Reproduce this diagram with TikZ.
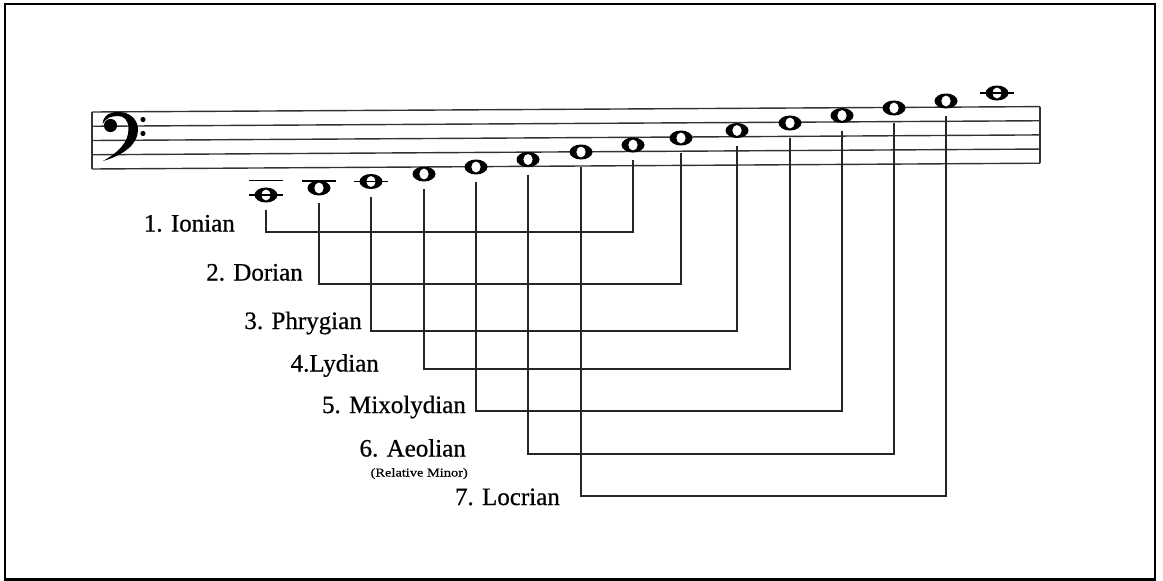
\documentclass[tikz,border=0pt]{standalone}
\usepackage{fontspec}
\setmainfont{Liberation Serif}
\usetikzlibrary{shapes.geometric,calc}
\begin{document}
\begin{tikzpicture}[x=1pt,y=-1pt,
  staffline/.style={line width=1.4pt, draw=black!80},
  conn/.style={line width=1.5pt, draw=black!85},
  ledger/.style={line width=1.7pt, draw=black},
  wnote/.style={ellipse, fill=black, minimum width=23pt, minimum height=15pt, inner sep=0pt,
    path picture={\fill[white, rotate around={-15:(path picture bounding box.center)}] (path picture bounding box.center) ellipse [x radius=4.6pt, y radius=5.4pt];}},
  mode/.style={anchor=base east, font=\fontsize{25}{30}\selectfont\addfontfeature{FakeBold=0.6}, inner sep=0pt, text=black},
  small/.style={anchor=base east, font=\fontsize{12}{14}\selectfont\addfontfeature{FakeBold=0.5}, inner sep=0pt, text=black}
]
\useasboundingbox (0,0) rectangle (1163,581);
\fill[white] (0,0) rectangle (1163,581);
\draw[line width=2.5pt] (5,4) rectangle (1155,579.5);

% staff
\foreach \k in {0,...,4}
  \draw[staffline] (92,{112+14.25*\k}) -- (1040,{106.6+14.15*\k});
\draw[staffline] (92,112) -- (92,169);
\draw[staffline] (1040,106.6) -- (1040,163.2);

% bass clef
\fill (102.5,124) .. controls (103.5,114) and (112,111.5) .. (119,112)
  .. controls (132,112.5) and (138,121) .. (138,130)
  .. controls (138,144) and (124,155) .. (103,161)
  .. controls (119,152) and (128.5,142) .. (128.5,129)
  .. controls (128.5,120) and (124,116) .. (118,116)
  .. controls (111,116) and (106,118) .. (102.5,124) -- cycle;
\fill (110.5,125.5) circle (6.6pt);
\fill (143,119.5) circle (2.6pt);
\fill (143,133.5) circle (2.6pt);

% notes
\foreach \i/\x/\y in {1/266/195, 2/319/188, 3/371/181.5, 4/424/174, 5/476/167,
  6/528/159.5, 7/581/152, 8/633/145, 9/681/138, 10/737/130.5, 11/790/123,
  12/842/115.5, 13/894/108, 14/946/101, 15/997/93}
  \node[wnote] (n\i) at (\x,\y) {};

% ledger lines
\draw[ledger] ($(n1)+(-17,-14.5)$) -- ++(34,0);
\draw[ledger] ($(n1)+(-17,0)$) -- ++(34,0);
\draw[ledger] ($(n2)+(-17,-7)$) -- ++(34,0);
\draw[ledger] ($(n3)+(-17,0)$) -- ++(34,0);
\draw[ledger] ($(n15)+(-17,0)$) -- ++(34,0);

% connectors
\foreach \a/\b/\h in {1/8/232, 2/9/284, 3/10/331, 4/11/369, 5/12/411, 6/13/454, 7/14/496}{
  \coordinate (h\a) at (0,\h);
  \draw[conn] ([yshift=-7.5pt]n\a.south) -- (n\a |- h\a) -- (n\b |- h\a) -- ([yshift=-7.5pt]n\b.south);
}

% labels
\node[mode] (l1) at (235,231.5) {1. Ionian};
\node[mode] (l2) at (303,280.5) {2. Dorian};
\node[mode] (l3) at (362,329) {3. Phrygian};
\node[mode] (l4) at (379,371.5) {4.Lydian};
\node[mode] (l5) at (466,413) {5. Mixolydian};
\node[mode] (l6) at (466,456.5) {6. Aeolian};
\node[small] (l6b) at (468,476.5) {\scalebox{1.2}[1]{(Relative Minor)}};
\node[mode] (l7) at (560,505) {7. Locrian};
\end{tikzpicture}
\end{document}
